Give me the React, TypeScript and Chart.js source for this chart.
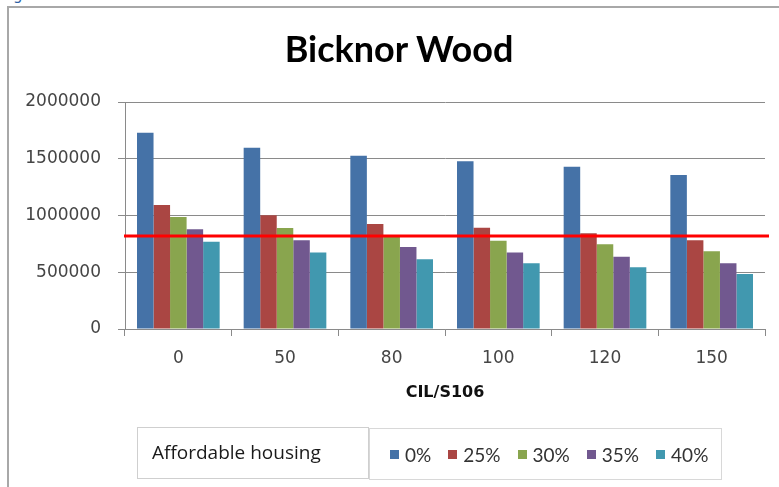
import React, { useEffect, useRef } from "react";
import { Chart, registerables } from "chart.js";

Chart.register(...registerables);

const categories = ["0", "50", "80", "100", "120", "150"];
const seriesNames = ["0%", "25%", "30%", "35%", "40%"];
const seriesColors = ["#4572A7", "#AA4643", "#89A54E", "#71588F", "#4198AF"];
const values0 = [1730000, 1598000, 1527000, 1477000, 1430000, 1357000];
const values25 = [1093000, 1002000, 925000, 893000, 843000, 781000];
const values30 = [987000, 890000, 815000, 778000, 746000, 684000];
const values35 = [878000, 781000, 722000, 673000, 637000, 579000];
const values40 = [769000, 673000, 614000, 579000, 543000, 485000];
const thresholdValue = 820000;
const yMin = 0;
const yMax = 2000000;
const yStep = 500000;
const chartTitle = "Bicknor Wood";
const xTitle = "CIL/S106";
const legendTitle = "Affordable housing";

const allSeries = [values0, values25, values30, values35, values40];

const thresholdPlugin = {
  id: "thresholdLine",
  afterDatasetsDraw(chart: any) {
    const { ctx, chartArea, scales } = chart;
    const y = scales.y.getPixelForValue(thresholdValue);
    ctx.save();
    ctx.strokeStyle = "#FF0000";
    ctx.lineWidth = 3;
    ctx.beginPath();
    ctx.moveTo(chartArea.left - 1, y);
    ctx.lineTo(chartArea.right + 4, y);
    ctx.stroke();
    ctx.restore();
  },
};

export default function App() {
  const canvasRef = useRef<HTMLCanvasElement | null>(null);

  useEffect(() => {
    if (!canvasRef.current) return;
    const gridColor = "#8a8a8a";
    const chart = new Chart(canvasRef.current, {
      type: "bar",
      data: {
        labels: categories,
        datasets: allSeries.map((vals, i) => ({
          label: seriesNames[i],
          data: vals,
          backgroundColor: seriesColors[i],
          borderWidth: 0,
          categoryPercentage: 0.775,
          barPercentage: 1.0,
        })),
      },
      options: {
        animation: false,
        responsive: false,
        maintainAspectRatio: false,
        layout: { padding: { left: 0, right: 14, top: 102, bottom: 78 } },
        plugins: {
          legend: { display: false },
          title: { display: false },
          tooltip: { enabled: false },
        },
        scales: {
          x: {
            afterFit(scale: any) {
              scale.height = 80;
            },
            grid: {
              offset: true,
              drawOnChartArea: false,
              drawTicks: true,
              tickLength: 7,
              color: gridColor,
            },
            border: { display: true, color: gridColor, width: 1 },
            ticks: {
              padding: 12,
              color: "#454545",
              font: { family: "'DejaVu Sans'", size: 17 },
            },
            title: {
              display: true,
              text: xTitle,
              color: "#111",
              font: { family: "'DejaVu Sans'", size: 16, weight: "bold" },
              padding: { top: 0, bottom: 7 },
            },
          },
          y: {
            min: yMin,
            max: yMax,
            afterFit(scale: any) {
              scale.width = 125;
            },
            grid: {
              drawOnChartArea: true,
              drawTicks: true,
              tickLength: 7,
              color: gridColor,
            },
            border: { display: true, color: gridColor, width: 1 },
            ticks: {
              stepSize: yStep,
              padding: 17,
              color: "#454545",
              font: { family: "'DejaVu Sans'", size: 17 },
              callback: (v: any) => String(v),
            },
          },
        },
      },
      plugins: [thresholdPlugin],
    } as any);
    return () => chart.destroy();
  }, []);

  return (
    <div
      style={{
        position: "absolute",
        left: 0,
        top: 0,
        width: 779,
        height: 487,
        overflow: "hidden",
        background: "#fff",
      }}
    >
      <span
        style={{
          position: "absolute",
          left: 13,
          top: -14,
          fontFamily: "'DejaVu Sans'",
          fontSize: 15,
          color: "#2e5fa3",
        }}
      >
        g
      </span>
      <div
        style={{
          position: "absolute",
          left: 7,
          top: 6,
          width: 800,
          height: 500,
          borderLeft: "2px solid #a8a8a8",
          borderTop: "2px solid #a8a8a8",
        }}
      />
      <canvas
        ref={canvasRef}
        width={779}
        height={487}
        style={{ position: "absolute", left: 0, top: 0, width: 779, height: 487 }}
      />
      <div
        style={{
          position: "absolute",
          left: 0,
          width: 798,
          top: 27,
          textAlign: "center",
          fontFamily: "Lato",
          fontWeight: 700,
          fontSize: 36,
          lineHeight: "43px",
          color: "#000",
        }}
      >
        {chartTitle}
      </div>
      <div
        style={{
          position: "absolute",
          left: 137,
          top: 427,
          width: 232,
          height: 52,
          border: "1px solid #cfcfcf",
          boxSizing: "border-box",
          display: "flex",
          alignItems: "center",
          paddingLeft: 14,
          paddingBottom: 3,
          fontFamily: "'Open Sans'",
          fontSize: 19,
          color: "#1a1a1a",
        }}
      >
        {legendTitle}
      </div>
      <div
        style={{
          position: "absolute",
          left: 369,
          top: 428,
          width: 353,
          height: 52,
          border: "1px solid #d8d8d8",
          boxSizing: "border-box",
          display: "flex",
          alignItems: "center",
          paddingLeft: 20,
          fontFamily: "Lato",
          fontSize: 19,
          color: "#333",
        }}
      >
        {seriesNames.map((name, i) => (
          <div
            key={name}
            style={{ display: "flex", alignItems: "center", marginRight: 17 }}
          >
            <span
              style={{
                display: "inline-block",
                width: 9,
                height: 9,
                background: seriesColors[i],
                marginRight: 6,
              }}
            />
            <span>{name}</span>
          </div>
        ))}
      </div>
    </div>
  );
}
